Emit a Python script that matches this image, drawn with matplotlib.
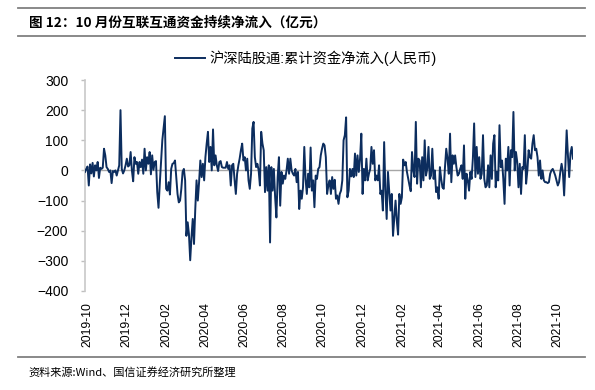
import matplotlib
matplotlib.use("Agg")
import matplotlib.pyplot as plt
from matplotlib.lines import Line2D
import pandas as pd

plt.rcParams["font.family"] = ["Liberation Sans", "Noto Sans CJK SC", "DejaVu Sans"]

# 数据（从图上读取的估计值，单位：亿元）
start_date = "2019-09-27"
end_date = "2021-10-25"
tick_labels = ["2019-10", "2019-12", "2020-02", "2020-04", "2020-06", "2020-08",
               "2020-10", "2020-12", "2021-02", "2021-04", "2021-06", "2021-08",
               "2021-10"]
series_name = "沪深陆股通:累计资金净流入(人民币)"
net_inflow = [
    -5, 5, 13, -50, 20, -10, 25, -20, 17, 0, 28, -25, 9, 5, 9, 72, 50, 11, 5, -5,
    0, -42, -2, -5, 0, -17, 0, 17, 200, 5, -10, 0, 17, 39, 13, 17, 61, 0, -36, 44,
    22, 28, -11, 28, 11, 36, -11, 72, 0, 44, 22, 61, -13, 50, 2, 28, 31, -72, -124, -44,
    28, 100, 139, 180, -61, -67, -39, -80, 5, 22, 24, 33, -22, -78, -106, -100, -61, -5, 5, -33,
    -217, -172, -211, -298, -222, -161, -244, -128, -33, -100, -39, 33, -22, 22, -33, 44, 89, 128, 28, 78,
    0, 136, 17, 50, 17, -2, 28, 31, 11, 9, 9, 9, 28, 5, 17, -50, 17, 22, -31, -78,
    -11, 17, 39, 67, 89, 33, 44, 0, 39, -33, -61, -11, 139, 161, 44, 11, 22, 0, -50, 128,
    89, 67, -72, 11, -67, 17, -239, 11, -67, 5, -89, -156, -22, 44, -117, -5, -44, -17, -28, 0,
    39, -11, 39, 0, -11, -17, 5, -39, -5, -128, -67, -94, -56, 78, -28, -78, -11, -56, 76, -67,
    -33, -122, -17, -28, 5, 11, 50, 72, 89, 83, 44, -78,
    -50, -33, -78, -22, -61, -31, -94, -83, -111, -78, -67, -33, 100, 117, 176, -89, -67, 5, -20, 5,
    -22, 56, -17, 50, -5, 39, 122, -78, 5, -33, 39, -33, -11, 5, 78, 22, 67, -33, -17, -33,
    17, -78, -67, -133, 94, -67, -161, -5, -67, -133, -78, -217, -156, -100, -167, -213, -78, -111, -89, 36,
    17, 28, -5, -28, -50, -69, 61, 0, -22, 161, -44, 39, 33, -56, 44, -33, 100, -17, 5, 78,
    -28, -17, 72, -28, 0, -72, -56, -94, 11, -28, -56, -61, 11, 72, 39, -11, 122, -39, 50, 22,
    50, 11, -17, -11, 5, 17, -28, 83, -94, -11, -33, -67, -5, -28, 39, 156, -22, 78, -11, 44,
    -28, -11, 117, -28, -56, -50, 17, -56, 50, -28, 89, 117, -56, -5, -33, 150, 11, 33, -28, -111,
    39, 0, 78, -50, 67, 44, 194, 0, 61, 28, -56, 22, -78, 11, 5, 117, -44, 0, 67, 44,
    39, 89, 117, 67, 72, 44, -17, 33, -28, 0, -33, -39, -39, -42, -39, -11, 0, 5, -5, -17,
    -33, -50, -39, -5, 22, -5, -83, 17, 133, 50, -22, 56, 78, 39,
]

dates = pd.date_range(start_date, end_date, periods=len(net_inflow))
tick_dates = pd.to_datetime([t + "-01" for t in tick_labels])

W, H = 595, 390
fig = plt.figure(figsize=(W / 100, H / 100), dpi=100)
ax = fig.add_axes([85 / W, 99 / H, 488 / W, 211 / H])

ax.axhline(0, color="#a6a6a6", linewidth=1.0, zorder=2)
ax.plot(dates, net_inflow, color="#0c2d5e", linewidth=1.4, label=series_name, zorder=3)

ax.set_xlim(dates[0], dates[-1])
ax.set_ylim(-400, 300)
ax.set_yticks(range(-400, 301, 100))
ax.set_xticks(tick_dates)
ax.set_xticklabels(tick_labels, rotation=90, fontsize=8.7)
ax.tick_params(axis="x", length=0, pad=8)
ax.tick_params(axis="y", length=3, color="#bfbfbf", width=1, labelsize=10, pad=9)

for side in ["top", "right", "bottom"]:
    ax.spines[side].set_visible(False)
ax.spines["left"].set_color("#c8c8c8")
ax.spines["left"].set_linewidth(1.2)

ax.legend(loc="center", bbox_to_anchor=(306 / W, 1 - 58 / H), bbox_transform=fig.transFigure,
          frameon=False, fontsize=10.3, handlelength=2.1, handletextpad=0.35,
          borderpad=0, borderaxespad=0)

# 标题与分隔线
for y in [8, 36, 357]:
    fig.add_artist(Line2D([18 / W, 585 / W], [1 - y / H, 1 - y / H],
                          transform=fig.transFigure, color="#808080", linewidth=1.3))
fig.text(29 / W, 1 - 22.5 / H, "图 12：10 月份互联互通资金持续净流入（亿元）",
         fontsize=9.8, fontweight="bold", family=["Noto Sans CJK SC"], va="center", ha="left")
fig.text(28 / W, 1 - 372 / H, "资料来源:Wind、国信证券经济研究所整理",
         fontsize=8, family=["Noto Sans CJK SC"], va="center", ha="left")

fig.savefig("out.png", dpi=100)
